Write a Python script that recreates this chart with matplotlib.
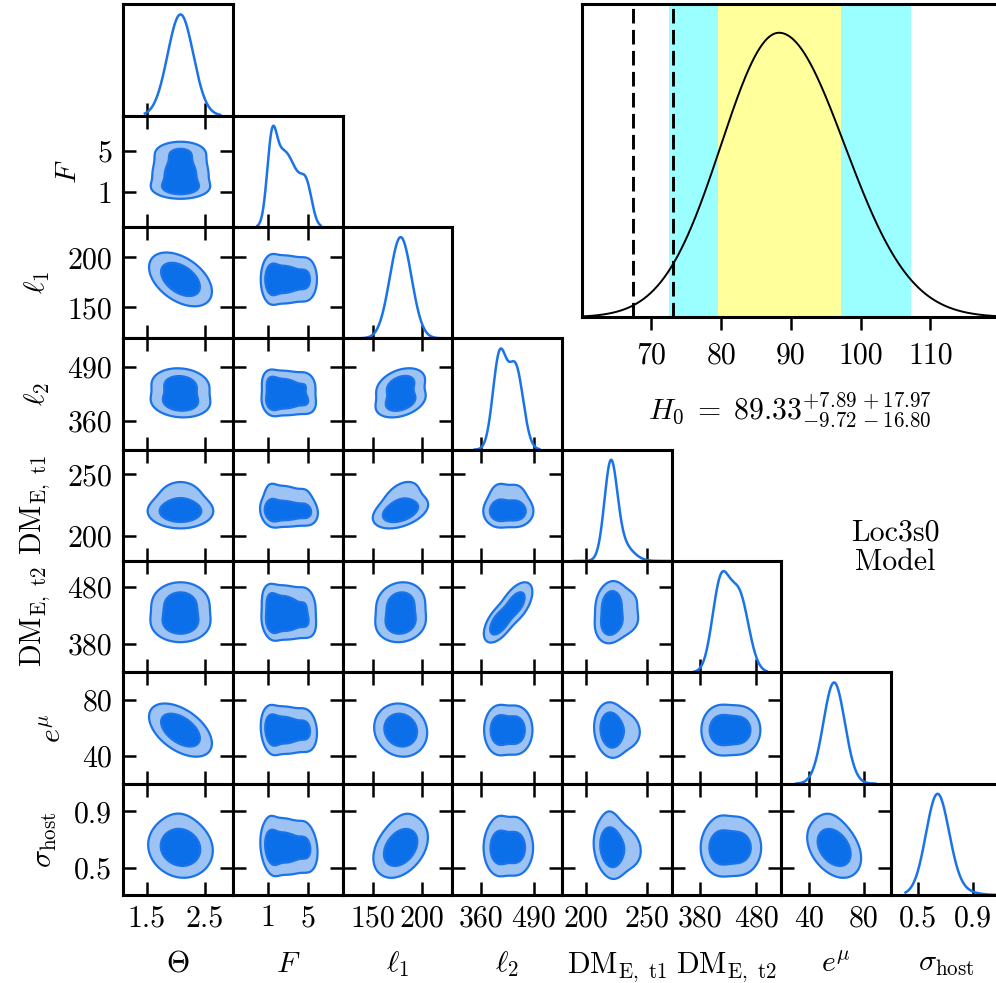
import numpy as np
import matplotlib
matplotlib.use("Agg")
import matplotlib.pyplot as plt

plt.rcParams["font.family"] = "serif"
plt.rcParams["font.serif"] = ["cmr10"]
plt.rcParams["mathtext.fontset"] = "cm"
plt.rcParams["axes.formatter.use_mathtext"] = True
plt.rcParams["font.size"] = 21.5

# parameter names, plot ranges and ticks
labels = [r"$\Theta$", r"$F$", r"$\ell_1$", r"$\ell_2$",
          r"$\mathrm{DM}_{\mathrm{E,\ t1}}$", r"$\mathrm{DM}_{\mathrm{E,\ t2}}$",
          r"$e^{\mu}$", r"$\sigma_{\mathrm{host}}$"]
ranges = [(1.10, 2.98), (-2.45, 8.50), (119, 230.5), (290, 560),
          (180, 270), (330, 525), (20, 100), (0.305, 1.098)]
ticks = [[1.5, 2.5], [1, 5], [150, 200], [360, 490],
         [200, 250], [380, 480], [40, 80], [0.5, 0.9]]
tick_labels = [["1.5", "2.5"], ["1", "5"], ["150", "200"], ["360", "490"],
               ["200", "250"], ["380", "480"], ["40", "80"], ["0.5", "0.9"]]
# sample extent of each chain (where the 1D curve is drawn)
support = [(1.47, 2.76), (0.0, 6.3), (130, 224), (345, 504),
           (190, 268), (371, 499), (31, 88.6), (0.41, 1.1)]

# posterior modes per parameter: (centre, width, weight)
theta_modes = [(2.08, 0.22, 1.0)]
f_modes = [(1.45, 0.5, 0.328), (2.4, 0.55, 0.207), (3.2, 0.55, 0.174),
           (4.0, 0.55, 0.124), (4.9, 0.55, 0.166)]
l1_modes = [(178, 11, 1.0)]
l2_modes = [(406, 16.5, 0.5), (446, 18.5, 0.5)]
dmt1_modes = [(220, 5.2, 0.74), (228, 9.0, 0.26)]
dmt2_modes = [(417, 15, 0.5), (450, 17, 0.5)]
emu_modes = [(58.5, 7.8, 1.0)]
host_modes = [(0.64, 0.082, 0.87), (0.70, 0.13, 0.13)]
modes = [theta_modes, f_modes, l1_modes, l2_modes,
         dmt1_modes, dmt2_modes, emu_modes, host_modes]
linked = {(5, 3)}  # l2 and DM_t2 modes move together

# correlation of each pair (row, column)
rho = {
    (1, 0): 0.0,
    (2, 0): -0.45, (2, 1): 0.0,
    (3, 0): -0.1, (3, 1): -0.15, (3, 2): 0.35,
    (4, 0): 0.0, (4, 1): -0.15, (4, 2): 0.4, (4, 3): 0.0,
    (5, 0): 0.0, (5, 1): -0.2, (5, 2): 0.1, (5, 3): 0.55, (5, 4): 0.15,
    (6, 0): -0.5, (6, 1): -0.15, (6, 2): -0.1, (6, 3): 0.0, (6, 4): -0.1, (6, 5): 0.0,
    (7, 0): -0.1, (7, 1): -0.2, (7, 2): 0.35, (7, 3): 0.0, (7, 4): -0.15, (7, 5): 0.0,
    (7, 6): -0.35,
}

# H0 posterior summary
h0_median = 89.33
h0_err1 = (9.72, 7.89)
h0_err2 = (16.80, 17.97)
h0_peak, h0_sig_lo, h0_sig_hi = 88.3, 8.3, 9.4
h0_refs = [67.4, 73.04]
h0_ticks = [70, 80, 90, 100, 110]

line_c = "#1a73e8"
dark_c = "#0b6fe9"
light_c = "#9dc3f4"


def pdf1d(x, mds):
    out = np.zeros_like(x)
    for mu, s, w in mds:
        out += w * np.exp(-0.5 * ((x - mu) / s) ** 2) / s
    return out


def pdf2d(X, Y, mx, my, r, paired):
    if paired:
        combos = [(a, b, a[2]) for a, b in zip(mx, my)]
    else:
        combos = [(a, b, a[2] * b[2]) for a in mx for b in my]
    Z = np.zeros_like(X)
    for (ux, sx, _), (uy, sy, _), w in combos:
        u = (X - ux) / sx
        v = (Y - uy) / sy
        q = (u * u - 2 * r * u * v + v * v) / (1 - r * r)
        Z += w * np.exp(-0.5 * q) / (sx * sy * np.sqrt(1 - r * r))
    return Z


def mass_levels(Z, masses=(0.95, 0.68)):
    z = np.sort(Z.ravel())[::-1]
    c = np.cumsum(z)
    c /= c[-1]
    return [z[np.searchsorted(c, m)] for m in masses]


W, H = 996, 983
fig = plt.figure(figsize=(W / 100, H / 100), dpi=100)

x0, cw = 123.3, 109.67
y0, rh = 4.3, 111.34
n = len(labels)
tick_kw = dict(direction="in", length=9.5, width=1.8)

for i in range(n):
    for j in range(i + 1):
        ax = fig.add_axes([(x0 + j * cw) / W, 1 - (y0 + (i + 1) * rh) / H, cw / W, rh / H])
        for sp in ax.spines.values():
            sp.set_linewidth(2.2)
        ax.set_xlim(ranges[j])
        ax.set_xticks(ticks[j])
        if i == j:
            lo, hi = support[i]
            xs = np.linspace(lo, hi, 400)
            ys = pdf1d(xs, modes[i])
            ax.plot(xs, ys, color=line_c, lw=1.8)
            ax.set_ylim(0, 1.1 * ys.max())
            ax.set_yticks([])
            ax.tick_params(axis="x", top=False, pad=7, **tick_kw)
        else:
            gx = np.linspace(*ranges[j], 220)
            gy = np.linspace(*ranges[i], 220)
            X, Y = np.meshgrid(gx, gy)
            Z = pdf2d(X, Y, modes[j], modes[i], rho[(i, j)], (i, j) in linked)
            l95, l68 = mass_levels(Z)
            ax.contourf(X, Y, Z, levels=[l95, l68, Z.max() * 1.01], colors=[light_c, dark_c])
            ax.contour(X, Y, Z, levels=[l95, l68], colors=[line_c], linewidths=1.6)
            ax.set_ylim(ranges[i])
            ax.set_yticks(ticks[i])
            ax.tick_params(top=True, right=True, **tick_kw)
            ax.tick_params(axis="x", pad=7)
            ax.tick_params(axis="y", pad=8)
        if i == n - 1:
            ax.set_xticklabels(tick_labels[j])
            ax.set_xlabel(labels[j], labelpad=13)
        else:
            ax.set_xticklabels([])
        if j == 0 and i > 0:
            ax.set_yticklabels(tick_labels[i])
            ax.set_ylabel(labels[i], labelpad=11)
        elif i != j:
            ax.set_yticklabels([])

# H0 posterior panel
axh = fig.add_axes([581.7 / W, 1 - 317.3 / H, 419.0 / W, 313.0 / H])
for sp in axh.spines.values():
    sp.set_linewidth(2.2)
hx = np.linspace(60, 120.1, 500)
hs = np.where(hx < h0_peak, h0_sig_lo, h0_sig_hi)
hy = np.exp(-0.5 * ((hx - h0_peak) / hs) ** 2)
axh.axvspan(h0_median - h0_err2[0], h0_median + h0_err2[1], color="#9bffff", lw=0)
axh.axvspan(h0_median - h0_err1[0], h0_median + h0_err1[1], color="#ffff9b", lw=0)
for v in h0_refs:
    axh.axvline(v, color="black", lw=2.1, ls=(0, (5, 2.2)))
axh.plot(hx, hy, color="black", lw=1.4)
axh.set_xlim(60, 120.1)
axh.set_ylim(0, 1.1 * hy.max())
axh.set_yticks([])
axh.set_xticks(h0_ticks)
axh.set_xticklabels([str(t) for t in h0_ticks])
axh.tick_params(axis="x", direction="out", length=9.5, width=1.8, pad=8)

fig.text(790 / W, 1 - 420 / H,
         r"$H_0\;=\;%.2f^{+%.2f\,+%.2f}_{-%.2f\,-%.2f}$"
         % (h0_median, h0_err1[1], h0_err2[1], h0_err1[0], h0_err2[0]),
         ha="center", va="baseline")
fig.text(895 / W, 1 - 533 / H, "Loc3s0", ha="center", va="center")
fig.text(895 / W, 1 - 562 / H, "Model", ha="center", va="center")

fig.savefig("out.png", dpi=100)
